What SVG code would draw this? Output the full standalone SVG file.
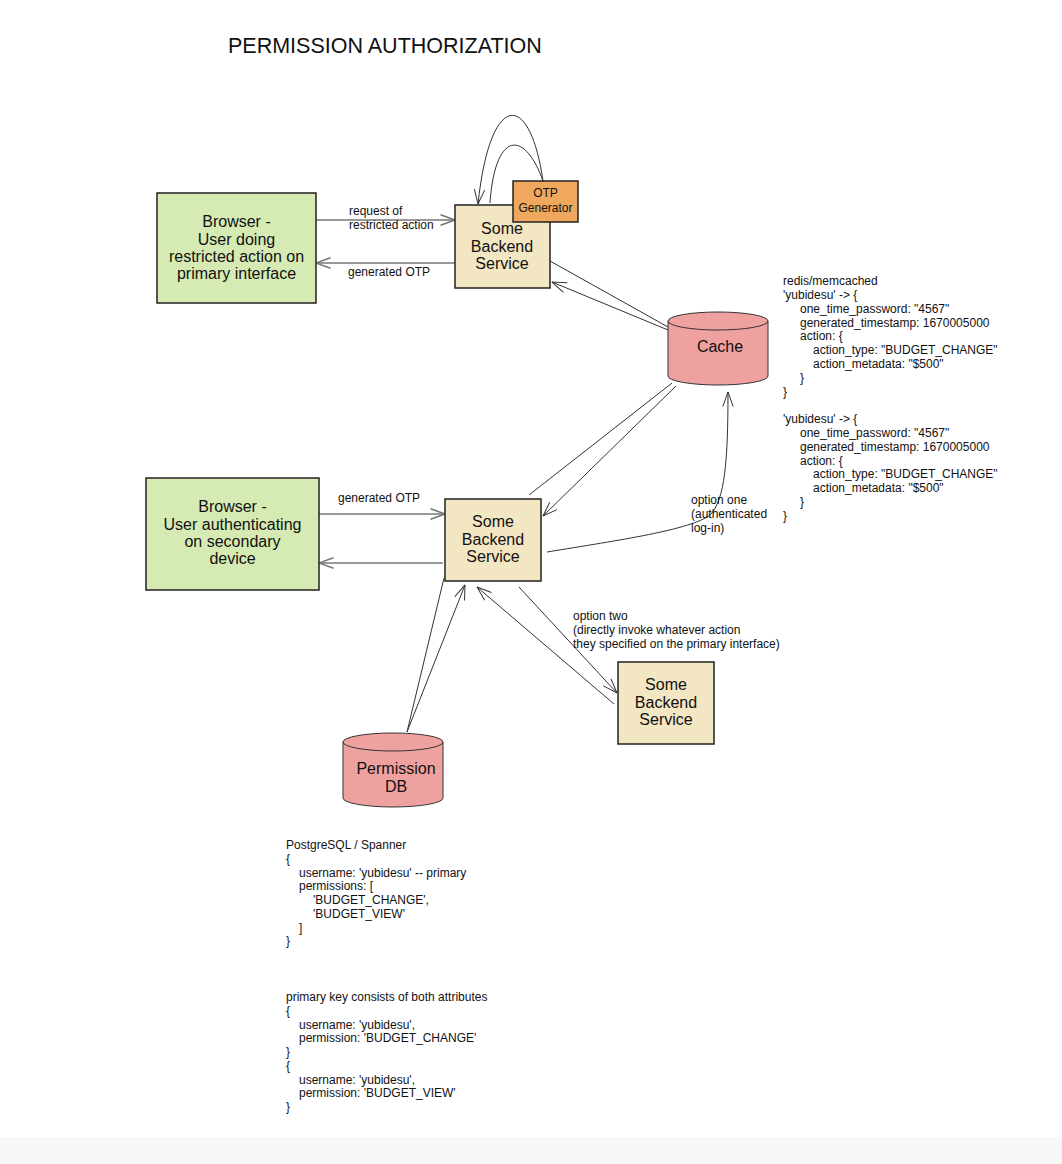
<svg xmlns="http://www.w3.org/2000/svg" width="1062" height="1164" viewBox="0 0 1062 1164">
<style>
.lbl{font-family:"Liberation Sans",Arial,sans-serif;font-size:16px;fill:#111;text-anchor:middle}
.sm{font-family:"Liberation Sans",Arial,sans-serif;font-size:12px;fill:#111}
.box{stroke:#222;stroke-width:1.5}
.green{fill:#D6EBB3}
.tan{fill:#F3E6C3}
.pink{fill:#EFA1A0;stroke:#333;stroke-width:1}
.orange{fill:#EFA85E}
.c{fill:none;stroke:#333;stroke-width:1}
.g{fill:none;stroke:#777;stroke-width:1.5}
</style>
<defs>
<marker id="ad" viewBox="0 0 16 12" refX="15.5" refY="6" markerWidth="16" markerHeight="12" markerUnits="userSpaceOnUse" orient="auto"><path d="M1,0.8 L15.5,6 L1,11.2" fill="none" stroke="#333" stroke-width="1"/></marker>
<marker id="ag" viewBox="0 0 16 12" refX="15.5" refY="6" markerWidth="16" markerHeight="12" markerUnits="userSpaceOnUse" orient="auto"><path d="M1,0.8 L15.5,6 L1,11.2" fill="none" stroke="#777" stroke-width="1.5"/></marker>
</defs>
<rect x="0" y="0" width="1062" height="1164" fill="#fff"/>
<rect x="0" y="1137" width="1062" height="27" fill="#f8f8f8"/>
<text x="228" y="53" font-family="Liberation Sans, Arial, sans-serif" font-size="21.5" fill="#111">PERMISSION AUTHORIZATION</text>

<g id="connectors">
<path class="g" d="M316,220 L455,220" marker-end="url(#ag)"/>
<path class="g" d="M455,263 L316,263" marker-end="url(#ag)"/>
<path class="c" d="M543,181 C530,90 490,90 478,204" marker-end="url(#ad)"/>
<path class="c" d="M490,203 C495,130 525,130 543,181"/>
<path class="c" d="M550,261 L668,327"/>
<path class="c" d="M668,330 L552,282" marker-end="url(#ad)"/>
<path class="c" d="M529,495 L672,383"/>
<path class="c" d="M676,386 L543,516" marker-end="url(#ad)"/>
<path class="c" d="M547,552 C620,540 690,530 710,515 C725,500 728,460 728,392" marker-end="url(#ad)"/>
<path class="g" d="M319,514 L445,514" marker-end="url(#ag)"/>
<path class="g" d="M443,563 L319,563" marker-end="url(#ag)"/>
<path class="c" d="M444,578 L407,732"/>
<path class="c" d="M407,732 L465,585" marker-end="url(#ad)"/>
<path class="c" d="M519,587 L617,693" marker-end="url(#ad)"/>
<path class="c" d="M614,704 L477,587" marker-end="url(#ad)"/>
<text class="sm" x="349" y="215">request of</text>
<text class="sm" x="349" y="229">restricted action</text>
<text class="sm" x="348" y="276">generated OTP</text>
<text class="sm" x="338" y="502">generated OTP</text>
<text class="sm" x="691" y="504">option one</text>
<text class="sm" x="691" y="518">(authenticated</text>
<text class="sm" x="691" y="532">log-in)</text>
<text class="sm" x="573" y="620">option two</text>
<text class="sm" x="573" y="634">(directly invoke whatever action</text>
<text class="sm" x="573" y="648">they specified on the primary interface)</text>
</g>

<g id="browser1">
<rect class="box green" x="157" y="193" width="159" height="110"/>
<text class="lbl" x="236.5" y="227">Browser -</text>
<text class="lbl" x="236.5" y="245">User doing</text>
<text class="lbl" x="236.5" y="262">restricted action on</text>
<text class="lbl" x="236.5" y="279">primary interface</text>
</g>

<g id="backend1">
<rect class="box tan" x="455" y="205" width="95" height="83"/>
<text class="lbl" x="502" y="234">Some</text>
<text class="lbl" x="502" y="252">Backend</text>
<text class="lbl" x="502" y="269">Service</text>
</g>

<g id="otp-generator">
<rect class="box orange" x="513" y="181" width="65" height="41"/>
<text class="sm" x="545.5" y="197" text-anchor="middle" font-size="13">OTP</text>
<text class="sm" x="545.5" y="212" text-anchor="middle" font-size="13">Generator</text>
</g>

<g id="cache">
<path class="pink" d="M668,321 A50,9 0 0,1 768,321 L768,376 A50,9 0 0,1 668,376 Z"/>
<path class="c" d="M668,321 A50,9 0 0,0 768,321"/>
<text class="lbl" x="720" y="352" font-size="17">Cache</text>
</g>

<g id="cache-note">
<text class="sm" x="783" y="285">redis/memcached</text>
<text class="sm" x="783" y="299">'yubidesu' -&gt; {</text>
<text class="sm" x="800" y="313">one_time_password: "4567"</text>
<text class="sm" x="800" y="327">generated_timestamp: 1670005000</text>
<text class="sm" x="800" y="340">action: {</text>
<text class="sm" x="813" y="354">action_type: "BUDGET_CHANGE"</text>
<text class="sm" x="813" y="368">action_metadata: "$500"</text>
<text class="sm" x="800" y="382">}</text>
<text class="sm" x="783" y="396">}</text>
<text class="sm" x="783" y="423">'yubidesu' -&gt; {</text>
<text class="sm" x="800" y="437">one_time_password: "4567"</text>
<text class="sm" x="800" y="451">generated_timestamp: 1670005000</text>
<text class="sm" x="800" y="465">action: {</text>
<text class="sm" x="813" y="478">action_type: "BUDGET_CHANGE"</text>
<text class="sm" x="813" y="492">action_metadata: "$500"</text>
<text class="sm" x="800" y="506">}</text>
<text class="sm" x="783" y="520">}</text>
</g>

<g id="browser2">
<rect class="box green" x="146" y="478" width="173" height="112"/>
<text class="lbl" x="232.5" y="512">Browser -</text>
<text class="lbl" x="232.5" y="530">User authenticating</text>
<text class="lbl" x="232.5" y="547">on secondary</text>
<text class="lbl" x="232.5" y="564">device</text>
</g>

<g id="backend2">
<rect class="box tan" x="445" y="499" width="96" height="82"/>
<text class="lbl" x="493" y="527">Some</text>
<text class="lbl" x="493" y="545">Backend</text>
<text class="lbl" x="493" y="562">Service</text>
</g>

<g id="backend3">
<rect class="box tan" x="618" y="662" width="96" height="82"/>
<text class="lbl" x="666" y="690">Some</text>
<text class="lbl" x="666" y="708">Backend</text>
<text class="lbl" x="666" y="725">Service</text>
</g>

<g id="permission-db">
<path class="pink" d="M343,742 A50,9 0 0,1 443,742 L443,798 A50,9 0 0,1 343,798 Z"/>
<path class="c" d="M343,742 A50,9 0 0,0 443,742"/>
<text class="lbl" x="396" y="774">Permission</text>
<text class="lbl" x="396" y="792">DB</text>
</g>

<g id="db-note">
<text class="sm" x="286" y="849">PostgreSQL / Spanner</text>
<text class="sm" x="286" y="863">{</text>
<text class="sm" x="299" y="877">username: 'yubidesu' -- primary</text>
<text class="sm" x="299" y="890">permissions: [</text>
<text class="sm" x="313" y="904">'BUDGET_CHANGE',</text>
<text class="sm" x="313" y="918">'BUDGET_VIEW'</text>
<text class="sm" x="299" y="932">]</text>
<text class="sm" x="286" y="945">}</text>
<text class="sm" x="286" y="1001">primary key consists of both attributes</text>
<text class="sm" x="286" y="1015">{</text>
<text class="sm" x="299" y="1029">username: 'yubidesu',</text>
<text class="sm" x="299" y="1042">permission: 'BUDGET_CHANGE'</text>
<text class="sm" x="286" y="1056">}</text>
<text class="sm" x="286" y="1070">{</text>
<text class="sm" x="299" y="1084">username: 'yubidesu',</text>
<text class="sm" x="299" y="1097">permission: 'BUDGET_VIEW'</text>
<text class="sm" x="286" y="1111">}</text>
</g>
</svg>
